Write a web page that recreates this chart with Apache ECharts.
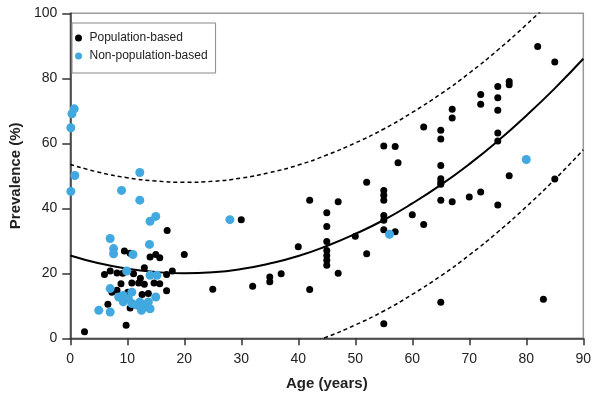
<!DOCTYPE html>
<html>
<head>
<meta charset="utf-8">
<script src="https://cdn.jsdelivr.net/npm/echarts@6/dist/echarts.min.js"></script>
<style>
html,body{margin:0;padding:0;background:#fff;}
#chart{width:602px;height:402px;}
</style>
</head>
<body>
<div id="chart"></div>
<script>
// Population-based studies: [age, prevalence]
const populationBased = [
  [2.5,2],[9.8,4],[6.6,10.5],[10.5,9.3],[8.2,14.8],[10.1,14.2],[13.7,13.8],[16.9,14.6],[7.3,14.2],[12.6,13.5],
  [8.9,16.8],[10.8,17],[12,17],[13,16.6],[14.7,17],[15.7,16.8],[12.3,18.5],
  [6,19.6],[7,20.7],[8.2,20.1],[9.2,20],[11.1,19.9],[13,21.7],[16.9,19.6],[17.9,20.7],
  [9.5,26.9],[10.5,26.2],[14,25],[15,25.8],[15.7,24.8],[20,25.8],[17,33.2],
  [25,15.1],[30,36.5],[32,16],[35,18.9],[35,17.4],[37,19.9],[40,28.2],[42,15],[42,42.5],
  [45,38.6],[45,34.4],[45,29.8],[45,27],[45,25.5],[45,24],[45,22.5],[47,42],[47,20],
  [50,31.4],[52,48],[52,26],
  [55,59.2],[55,45.5],[55,44],[55,42.5],[55,37.8],[55,36.3],[55,33.4],[55,4.5],
  [57,59],[57.5,54],[57,32.8],[60,38],[62,65],[62,35],
  [65,64],[65,61.3],[65,53.2],[65,49.1],[65,48.1],[65,47.4],[65,42.5],[65,11.1],
  [67,70.5],[67,67.8],[67,42],[70,43.5],[72,75],[72,72],[72,45],
  [75,77.5],[75,74],[75,70.2],[75,63.2],[75,60.7],[75,41],[77,79],[77,78],[77,50],
  [82,89.8],[83,12],[85,85],[85,49]
];
// Non-population-based studies: [age, prevalence]
const nonPopulationBased = [
  [0.3,69.1],[0.7,70.6],[0.1,64.8],[0.8,50.1],[0.1,45.2],[12.2,51],[9,45.5],[12.2,42.5],
  [15,37.5],[14,36],[7,30.7],[13.9,28.9],[7.6,27.6],[7.6,26],[11,25.8],[9.9,20.7],
  [14,19.4],[15.2,19.4],[7,15.3],[10.8,14.2],[15,12.7],[8.5,12.7],[9.3,13.2],[10.2,12.2],
  [9.3,11.2],[10.8,10.7],[11.7,10.2],[12.2,11.2],[13.1,9.6],[14,9.1],[12.5,8.6],[13.7,11.2],
  [5,8.6],[7,8.1],[28,36.5],[56,32],[80,55]
];
// Fitted curve and dashed band, every 5 years
const fitAges  = [0,5,10,15,20,25,30,35,40,45,50,55,60,65,70,75,80,85,90];
const fitMid   = [25.5,23.1,21.4,20.4,20.0,20.3,21.3,23.0,25.3,28.4,32.1,36.4,41.5,47.2,53.6,60.7,68.5,76.9,86.0];
const fitUpper = [53.5,51.1,49.4,48.4,48.0,48.3,49.3,51.0,53.3,56.4,60.1,64.4,69.5,75.2,81.6,88.7,96.5,104.9,114.0];
const fitLower = [-2.5,-4.9,-6.6,-7.6,-8.0,-7.7,-6.7,-5.0,-2.7,0.4,4.1,8.4,13.5,19.2,25.6,32.7,40.5,48.9,58.0];
const xTicks = [0,10,20,30,40,50,60,70,80,90];
const yTicks = [0,20,40,60,80,100];

const pair = (xs, ys) => xs.map((x, i) => [x, ys[i]]);
const font = 'Liberation Sans, Arial, sans-serif';

const chart = echarts.init(document.getElementById('chart'), null, {renderer: 'canvas'});
chart.setOption({
  animation: false,
  backgroundColor: '#fff',
  grid: {left: 66.7, right: 18.7, top: 13.3, bottom: 63.7, show: true, borderColor: '#999', borderWidth: 1.5, containLabel: false},
  legend: {
    left: 72, top: 23, orient: 'vertical',
    borderColor: '#888', borderWidth: 1, padding: [9, 8, 11, 3],
    itemWidth: 12, itemHeight: 7, itemGap: 6,
    textStyle: {fontFamily: font, fontSize: 12, color: '#222'},
    data: [
      {name: 'Population-based', icon: 'circle'},
      {name: 'Non-population-based', icon: 'circle'}
    ]
  },
  xAxis: {
    type: 'value', min: xTicks[0], max: xTicks[xTicks.length - 1], interval: 10,
    name: 'Age (years)', nameLocation: 'middle', nameGap: 38,
    nameTextStyle: {fontFamily: font, fontSize: 15, fontWeight: 'bold', color: '#222'},
    axisLine: {lineStyle: {color: '#333', width: 1.5}},
    axisTick: {show: true, length: 7, lineStyle: {color: '#333', width: 1.5}},
    axisLabel: {fontFamily: font, fontSize: 14, color: '#222', margin: 14},
    splitLine: {show: false}
  },
  yAxis: {
    type: 'value', min: yTicks[0], max: yTicks[yTicks.length - 1], interval: 20,
    name: 'Prevalence (%)', nameLocation: 'middle', nameGap: 44,
    nameTextStyle: {fontFamily: font, fontSize: 15, fontWeight: 'bold', color: '#222'},
    axisLine: {show: true, lineStyle: {color: '#333', width: 1.5}},
    axisTick: {show: true, length: 8, lineStyle: {color: '#333', width: 1.5}},
    axisLabel: {fontFamily: font, fontSize: 14, color: '#222', margin: 13},
    splitLine: {show: false}
  },
  series: [
    {name: 'fit', type: 'line', data: pair(fitAges, fitMid), smooth: true, symbol: 'none', clip: true,
     lineStyle: {color: '#000', width: 2}, z: 1, silent: true},
    {name: 'upper', type: 'line', data: pair(fitAges, fitUpper), smooth: true, symbol: 'none', clip: true,
     lineStyle: {color: '#000', width: 1.5, type: [4, 3]}, z: 1, silent: true},
    {name: 'lower', type: 'line', data: pair(fitAges, fitLower), smooth: true, symbol: 'none', clip: true,
     lineStyle: {color: '#000', width: 1.5, type: [4, 3]}, z: 1, silent: true},
    {name: 'Population-based', type: 'scatter', data: populationBased, symbolSize: 7,
     itemStyle: {color: '#000', opacity: 1}, z: 3},
    {name: 'Non-population-based', type: 'scatter', data: nonPopulationBased, symbolSize: 9,
     itemStyle: {color: '#41a9df', opacity: 1}, z: 4}
  ]
});
</script>
</body>
</html>
